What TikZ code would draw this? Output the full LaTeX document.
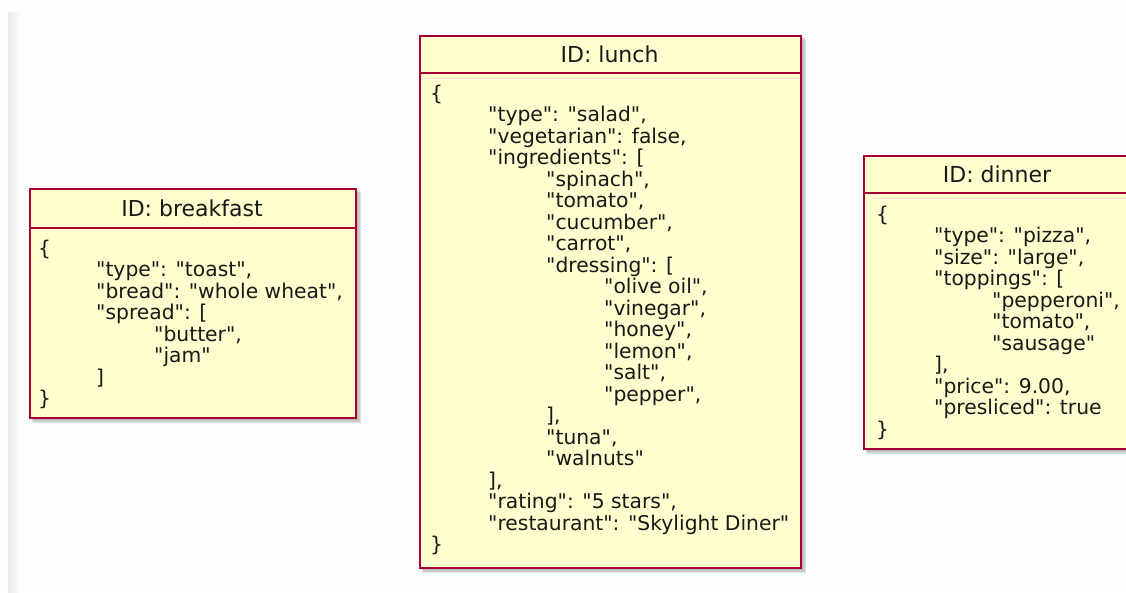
\documentclass[tikz,border=0pt]{standalone}
\usepackage{fontspec}
\setmainfont{DejaVu Sans}[Ligatures=TeXOff]
\definecolor{umlred}{HTML}{A80036}
\definecolor{umlfill}{HTML}{FEFECE}
\definecolor{bgcol}{HTML}{FDFDFD}
\newcommand\ind{\hspace*{58pt}}
\newcommand\jsonbody[1]{\parbox[t]{420pt}{\fontsize{20.3}{21.5}\selectfont\lineskiplimit=-100pt\relax #1}}
\tikzset{
  umlbox/.style={draw=umlred, fill=umlfill, line width=1.8pt, inner sep=0pt, anchor=north west},
  sepline/.style={draw=umlred, line width=1.8pt},
  titletext/.style={font=\fontsize{22}{24}\selectfont, text=black!90, inner sep=0pt},
  bodytext/.style={anchor=base west, inner sep=0pt, text=black!90},
  shade1/.style={fill=black, opacity=0.10},
}
\begin{document}
\begin{tikzpicture}[x=1pt,y=-1pt]
\useasboundingbox (0,0) rectangle (1126,592);
\fill[bgcol] (0,0) rectangle (1126,592);
\shade[left color=black!8, right color=bgcol] (8,12) rectangle (20,592);
\clip (0,0) rectangle (1126,592);

% shadows
\foreach \x/\y/\w/\h in {29/188/326/229, 419/35/381/532, 863/155/268/293}{
  \fill[shade1] (\x+2,\y+2) rectangle (\x+\w+3,\y+\h+3);
  \fill[shade1] (\x+3,\y+3) rectangle (\x+\w+5,\y+\h+5);
  \fill[shade1] (\x+4,\y+4) rectangle (\x+\w+6,\y+\h+6);
}

% breakfast
\node[umlbox, minimum width=326pt, minimum height=229pt] (bk) at (29,188) {};
\draw[sepline] ([yshift=-40pt]bk.north west) -- ([yshift=-40pt]bk.north east);
\node[titletext] (bkt) at (192,208) {ID: breakfast};
\node[bodytext] (bkb) at (38,255) {\jsonbody{%
\{\\
\ind"type": "toast",\\
\ind"bread": "whole wheat",\\
\ind"spread": [\\
\ind\ind"butter",\\
\ind\ind"jam"\\
\ind]\\
\}}};

% lunch
\node[umlbox, minimum width=381pt, minimum height=532pt] (lu) at (419,35) {};
\draw[sepline] ([yshift=-38pt]lu.north west) -- ([yshift=-38pt]lu.north east);
\node[titletext] (lut) at (609.5,54) {ID: lunch};
\node[bodytext] (lub) at (430,100) {\jsonbody{%
\{\\
\ind"type": "salad",\\
\ind"vegetarian": false,\\
\ind"ingredients": [\\
\ind\ind"spinach",\\
\ind\ind"tomato",\\
\ind\ind"cucumber",\\
\ind\ind"carrot",\\
\ind\ind"dressing": [\\
\ind\ind\ind"olive oil",\\
\ind\ind\ind"vinegar",\\
\ind\ind\ind"honey",\\
\ind\ind\ind"lemon",\\
\ind\ind\ind"salt",\\
\ind\ind\ind"pepper",\\
\ind\ind],\\
\ind\ind"tuna",\\
\ind\ind"walnuts"\\
\ind],\\
\ind"rating": "5 stars",\\
\ind"restaurant": "Skylight Diner"\\
\}}};

% dinner
\node[umlbox, minimum width=268pt, minimum height=293pt] (di) at (863,155) {};
\draw[sepline] ([yshift=-38pt]di.north west) -- ([yshift=-38pt]di.north east);
\node[titletext] (dit) at (997,174) {ID: dinner};
\node[bodytext] (dib) at (876,221) {\jsonbody{%
\{\\
\ind"type": "pizza",\\
\ind"size": "large",\\
\ind"toppings": [\\
\ind\ind"pepperoni",\\
\ind\ind"tomato",\\
\ind\ind"sausage"\\
\ind],\\
\ind"price": 9.00,\\
\ind"presliced": true\\
\}}};
\end{tikzpicture}
\end{document}
